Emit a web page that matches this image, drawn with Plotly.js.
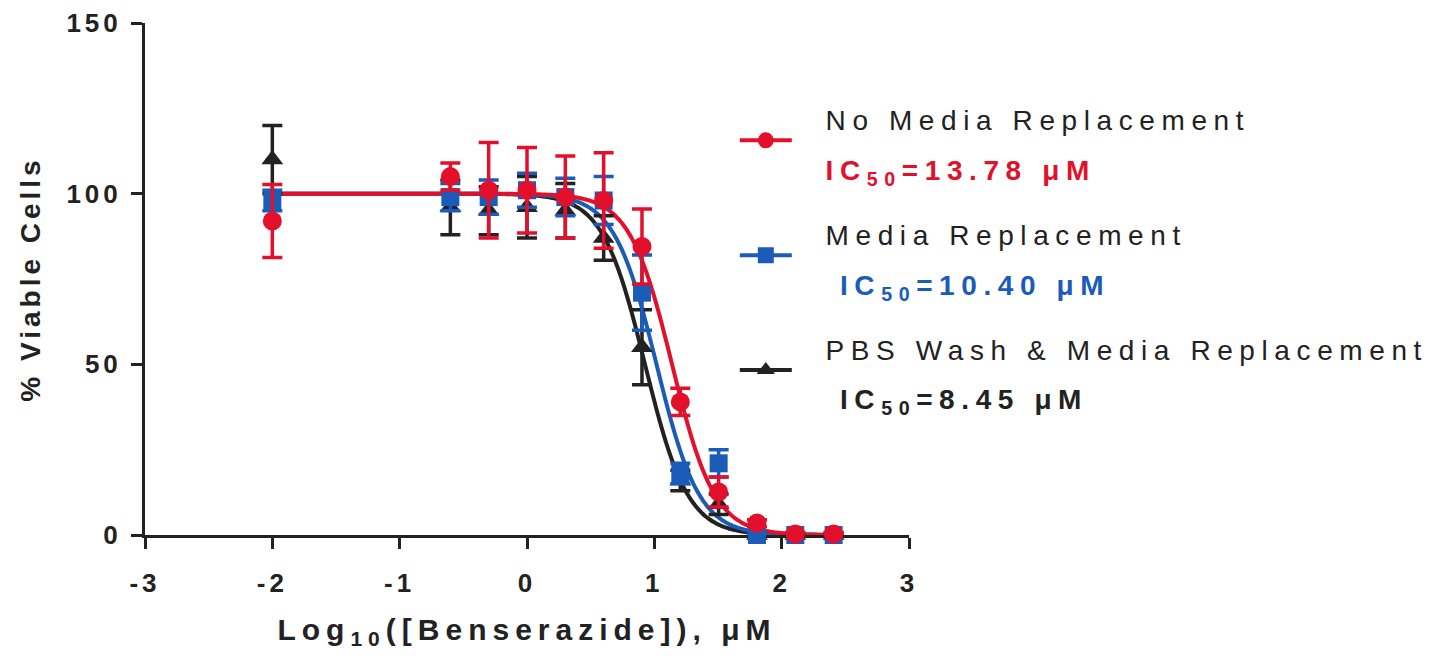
<!DOCTYPE html>
<html>
<head>
<meta charset="utf-8">
<script src="https://cdn.plot.ly/plotly-3.0.1.min.js"></script>
<style>
  html, body { margin: 0; padding: 0; background: #fff; }
  #chart { width: 1455px; height: 656px; }
  .xtick text, .ytick text { letter-spacing: 4px; }
  .g-xtitle text { letter-spacing: 6px; }
  .g-ytitle text { letter-spacing: 4px; }
  .legendtext { letter-spacing: 6.6px; }
</style>
</head>
<body>
<div id="chart"></div>
<script>
// log10 concentration (µM)
const logConc = [-2, -0.602, -0.301, 0, 0.301, 0.602, 0.903, 1.204, 1.505, 1.806, 2.107, 2.408];

// % viable cells, mean and error
const noMediaMean = [92, 105, 101, 101, 99, 98, 84.5, 39, 12.6, 3.5, 0.3, 0.3];
const noMediaErr  = [10.7, 4, 14, 12.5, 12, 14, 11, 4, 4.4, 1, 0.5, 0.5];

const mediaMean = [98, 99, 99, 101, 99, 98, 71, 18, 21, 0, 0, 0];
const mediaErr  = [3, 4, 5, 5, 5.5, 7, 11, 3, 4, 0.5, 0.5, 0.5];

const pbsMean = [110, 96, 95, 96, 95, 87, 55, 16, 9, 0, 0, 0];
const pbsErr  = [10, 8, 7, 9, 8, 6.5, 11, 3, 3, 0.5, 0.5, 0.5];

// fitted dose-response parameters
const seriesNames = ["No Media Replacement", "Media Replacement", "PBS Wash & Media Replacement"];
const ic50uM = [13.78, 10.40, 8.45];
const hillSlope = [2.6, 2.6, 2.6];
const fitTop = [100, 100, 100];
const fitBottom = [0, 0, 0];
const fitRange = [-2, 2.408];

const colors = ["#e3102c", "#1a5cb8", "#222222"];
const FONT = "Liberation Sans, Arial, sans-serif";

function fitCurve(i) {
  const xs = [], ys = [];
  const n = 300;
  const lic = Math.log10(ic50uM[i]);
  for (let k = 0; k <= n; k++) {
    const x = fitRange[0] + (fitRange[1] - fitRange[0]) * k / n;
    xs.push(x);
    ys.push(fitBottom[i] + (fitTop[i] - fitBottom[i]) / (1 + Math.pow(10, (x - lic) * hillSlope[i])));
  }
  return {x: xs, y: ys};
}

const means = [noMediaMean, mediaMean, pbsMean];
const errs = [noMediaErr, mediaErr, pbsErr];
const symbols = ["circle", "square", "triangle-up"];
const sizes = [19, 18, 19];

const traces = [];
// fit curves (black at bottom, red on top)
[2, 1, 0].forEach(i => {
  const c = fitCurve(i);
  traces.push({
    x: c.x, y: c.y, type: "scatter", mode: "lines",
    line: {color: colors[i], width: 4, shape: "spline"},
    showlegend: false, hoverinfo: "skip", cliponaxis: false
  });
});
// data points
[2, 1, 0].forEach(i => {
  traces.push({
    x: logConc, y: means[i], type: "scatter", mode: "markers",
    marker: {color: colors[i], symbol: symbols[i], size: sizes[i]},
    error_y: {type: "data", array: errs[i], visible: true, color: colors[i], thickness: 3.5, width: 10},
    showlegend: false, cliponaxis: false
  });
});
// legend entries
const icLabels = ["13.78", "10.40", "8.45"];
const NB = "\u00A0";
const lead = [NB + NB, NB + NB, NB + NB];
const indent = ["", NB, NB];
[0, 1, 2].forEach(i => {
  traces.push({
    x: [null], y: [null], type: "scatter", mode: "lines+markers",
    name: "<span style='font-size:28px'>" + lead[i] + seriesNames[i] + "</span><br>" +
          "<span style='font-size:28px;color:" + colors[i] + "'><b>" + lead[i] + indent[i] + "IC<sub>50</sub>=" + icLabels[i] + " μM</b></span>",
    line: {color: colors[i], width: 4},
    marker: {color: colors[i], symbol: symbols[i], size: 20},
    legendgroup: "g" + i, showlegend: true
  });
});

const layout = {
  width: 1455, height: 656,
  margin: {l: 145, r: 546, t: 23, b: 121},
  paper_bgcolor: "#ffffff", plot_bgcolor: "#ffffff",
  font: {family: FONT, color: "#222"},
  showlegend: true,
  legend: {
    x: 0.772, xanchor: "left", y: 0.88, yanchor: "top",
    font: {family: FONT, size: 38, color: "#222"},
    traceorder: "grouped", tracegroupgap: 13, itemwidth: 52,
    valign: "middle", bgcolor: "rgba(0,0,0,0)"
  },
  xaxis: {
    range: [-3, 3], tickmode: "array", tickvals: [-3, -2, -1, 0, 1, 2, 3],
    ticktext: ["-3", "-2", "-1", "0", "1", "2", "3"],
    showline: true, linewidth: 3, linecolor: "#222", mirror: false,
    ticks: "outside", ticklen: 11, tickwidth: 3, tickcolor: "#222",
    showgrid: false, zeroline: false, layer: "below traces",
    tickfont: {family: FONT, size: 26, weight: "bold", color: "#222"},
    ticklabelstandoff: 12,
    title: {text: "Log<sub>10</sub>([Benserazide]), μM", font: {family: FONT, size: 30, weight: "bold", color: "#222"}, standoff: 22}
  },
  yaxis: {
    range: [0, 150], tickmode: "array", tickvals: [0, 50, 100, 150],
    showline: true, linewidth: 3, linecolor: "#222",
    ticks: "outside", ticklen: 11, tickwidth: 3, tickcolor: "#222",
    showgrid: false, zeroline: false, layer: "below traces",
    tickfont: {family: FONT, size: 26, weight: "bold", color: "#222"},
    ticklabelstandoff: 4,
    title: {text: "% Viable Cells", font: {family: FONT, size: 28, weight: "bold", color: "#222"}, standoff: 18}
  }
};

Plotly.newPlot("chart", traces, layout, {displayModeBar: false, staticPlot: true});
</script>
</body>
</html>
